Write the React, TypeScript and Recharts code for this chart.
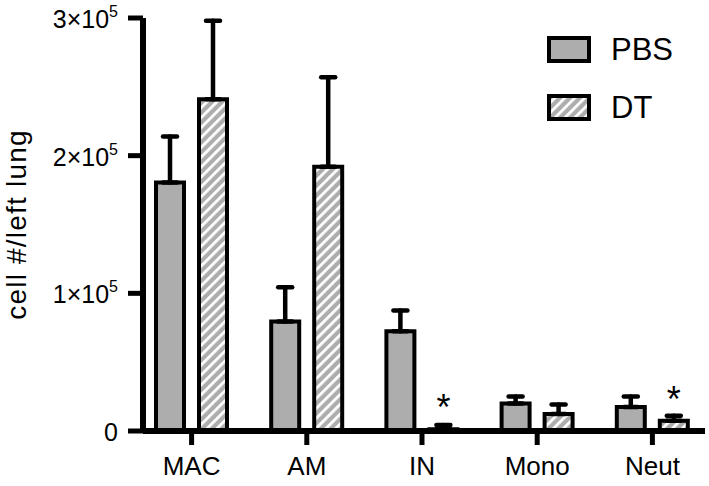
import React from 'react';
import { BarChart, Bar, XAxis, YAxis, ErrorBar, Legend, LabelList, Label } from 'recharts';

const categories = ['MAC', 'AM', 'IN', 'Mono', 'Neut'];
const pbsValues = [180500, 79500, 72500, 20000, 17500];
const pbsErrors = [33500, 25000, 15000, 5000, 7500];
const dtValues = [241000, 192000, 1200, 12300, 7500];
const dtErrors = [57000, 65000, 3200, 7000, 3500];
const dtSignificant = [false, false, true, false, true];
const yTicks = [0, 100000, 200000, 300000];
const seriesNames = ['PBS', 'DT'];

const FONT = '"Liberation Sans", Arial, Helvetica, sans-serif';
const GRAY = '#ADADAD';

const data = categories.map((c, i) => ({
  category: c,
  PBS: pbsValues[i],
  pbsErr: [0, pbsErrors[i]],
  DT: dtValues[i],
  dtErr: [0, dtErrors[i]],
  sig: dtSignificant[i] ? '*' : '',
}));

const YTick = (props: any) => {
  const { x, y, payload } = props;
  const v = payload.value as number;
  if (v === 0) {
    return (
      <text x={x} y={y} dy={10} textAnchor="end" fontSize={25} fontFamily={FONT} fill="#000">
        0
      </text>
    );
  }
  return (
    <text x={x} y={y} dy={10} textAnchor="end" fontSize={25} fontFamily={FONT} fill="#000">
      {`${v / 100000}×10`}
      <tspan dy={-11} fontSize={16}>5</tspan>
    </text>
  );
};

const renderLegend = () => {
  return (
    <div style={{ fontFamily: FONT }}>
      {seriesNames.map((name, i) => (
        <div
          key={name}
          style={{ display: 'flex', alignItems: 'center', height: 27, marginBottom: 31 }}
        >
          <svg width={44} height={27} style={{ display: 'block' }}>
            <rect
              x={2}
              y={2}
              width={40}
              height={23}
              fill={i === 0 ? GRAY : 'url(#hatch)'}
              stroke="#000"
              strokeWidth={4}
            />
          </svg>
          <span style={{ marginLeft: 20, fontSize: 31, color: '#000', lineHeight: '27px' }}>
            {name}
          </span>
        </div>
      ))}
    </div>
  );
};

const renderStar = (props: any) => {
  const { x, y, width, value } = props;
  if (!value) return null;
  return (
    <text
      x={x + width / 2}
      y={y - 9}
      textAnchor="middle"
      fontSize={36}
      fontFamily={FONT}
      fill="#000"
    >
      {value}
    </text>
  );
};

export default function App() {
  return (
    <div style={{ position: 'absolute', left: 0, top: 0, width: 709, height: 486, background: '#fff' }}>
      <BarChart
        width={709}
        height={486}
        data={data}
        margin={{ top: 18, right: 4, bottom: 0, left: 0 }}
        barSize={28}
        barGap={15}
      >
        <defs>
          <pattern
            id="hatch"
            patternUnits="userSpaceOnUse"
            width={7}
            height={10}
            patternTransform="rotate(45)"
          >
            <rect x={0} y={0} width={7} height={10} fill={GRAY} />
            <rect x={0} y={0} width={2.8} height={10} fill="#fff" />
          </pattern>
        </defs>
        <XAxis
          dataKey="category"
          height={55}
          padding={{ left: -9, right: -5 }}
          axisLine={{ stroke: '#000', strokeWidth: 6 }}
          tickLine={{ stroke: '#000', strokeWidth: 5 }}
          tickSize={14}
          tickMargin={12}
          tick={{ fontSize: 26, fontFamily: FONT, fill: '#000' }}
        />
        <YAxis
          width={143}
          domain={[0, 300000]}
          ticks={yTicks}
          interval={0}
          axisLine={{ stroke: '#000', strokeWidth: 6 }}
          tickLine={{ stroke: '#000', strokeWidth: 5 }}
          tickSize={15}
          tickMargin={10}
          tick={<YTick />}
        >
          <Label
            value="cell #/left lung"
            angle={-90}
            position="insideLeft"
            offset={0}
            dx={16}
            style={{ textAnchor: 'middle', fontSize: 28, letterSpacing: 1.2, fontFamily: FONT, fill: '#000' }}
          />
        </YAxis>
        <Legend
          layout="vertical"
          align="center"
          verticalAlign="middle"
          wrapperStyle={{ left: 547, top: 36, width: 160 }}
          content={renderLegend}
        />
        <Bar
          dataKey="PBS"
          name="PBS"
          fill={GRAY}
          stroke="#000"
          strokeWidth={4}
          isAnimationActive={false}
        >
          <ErrorBar
            dataKey="pbsErr"
            width={7}
            stroke="#000"
            strokeWidth={4.5}
            strokeLinecap="round"
            direction="y"
          />
        </Bar>
        <Bar
          dataKey="DT"
          name="DT"
          fill="url(#hatch)"
          stroke="#000"
          strokeWidth={4}
          isAnimationActive={false}
        >
          <ErrorBar
            dataKey="dtErr"
            width={7}
            stroke="#000"
            strokeWidth={4.5}
            strokeLinecap="round"
            direction="y"
          />
          <LabelList dataKey="sig" content={renderStar} />
        </Bar>
      </BarChart>
    </div>
  );
}
